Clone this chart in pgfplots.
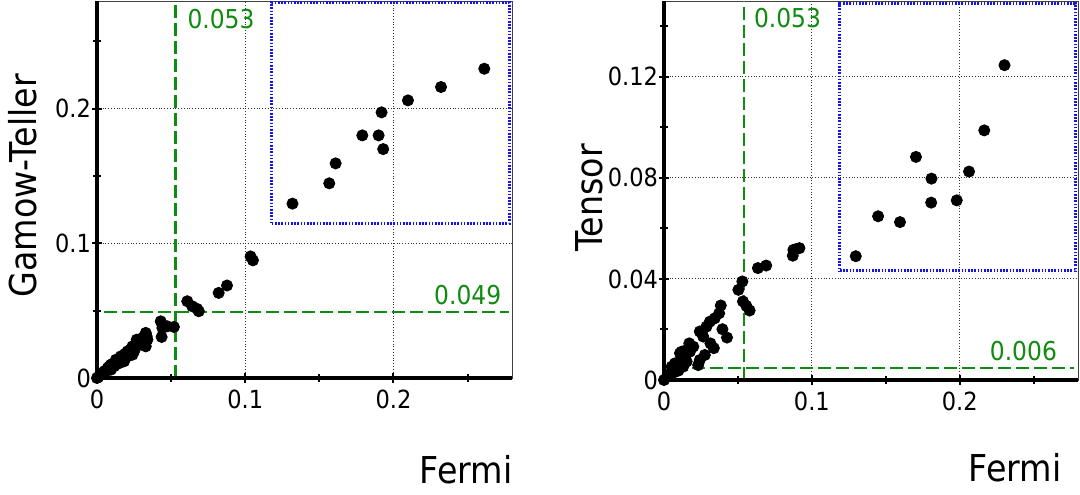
\documentclass[border=0pt]{standalone}
\usepackage{pgfplots}
\pgfplotsset{compat=1.18}
\usepackage{fontspec}
\setmainfont{DejaVu Sans}
\newfontfamily\tickfont{DejaVu Sans}[FakeStretch=0.9]
\definecolor{refgreen}{RGB}{15,140,15}
\definecolor{refblue}{RGB}{20,20,240}

\pgfplotsset{
  panel/.style={
    scale only axis, anchor=south west, clip=false,
    xmin=0, xmax=0.28,
    xtick={0,0.1,0.2}, minor xtick={0.05,0.15,0.25},
    scaled ticks=false,
    tick pos=left,
    tick align=center,
    major tick length=5pt, minor tick length=4pt,
    tick style={black, line width=1pt},
    xmajorgrids, ymajorgrids,
    major grid style={black!80, densely dotted, line width=0.45pt},
    axis line style={line width=0.5pt, black!75},
    tick label style={font=\tickfont\fontsize{12.5}{14}\selectfont},
    yticklabel style={xshift=3pt},
    /pgf/number format/assume math mode=true,
    /pgf/number format/fixed,
    label style={inner sep=0pt, font=\tickfont\fontsize{18.5}{22}\selectfont},
  },
  pts/.style={only marks, mark=*, mark size=2.8pt, black},
  gline/.style={refgreen, line width=1.2pt, dash pattern=on 6.5pt off 2.5pt},
  bbox/.style={refblue, line width=1.5pt, dash pattern=on 0.8pt off 0.8pt},
}
\tikzset{glab/.style={refgreen, inner sep=0pt, font=\tickfont\fontsize{13}{15}\selectfont}}

\begin{document}
\begin{tikzpicture}

% left panel: Gamow-Teller vs Fermi
\begin{axis}[panel,
    at={(48.5pt,58pt)}, width=207.5pt, height=188.5pt,
    ymin=0, ymax=0.28,
    ytick={0,0.1,0.2}, minor ytick={0.05,0.15,0.25},
    xlabel={Fermi}, ylabel={Gamow-Teller},
    xlabel style={at={(axis description cs:1.0024,-0.2785)}, anchor=base east},
    ylabel style={at={(axis description cs:-0.178,0.51)}, anchor=center},
  ]
  \addplot[gline] coordinates {(0.053,0) (0.053,0.28)};
  \addplot[gline] coordinates {(0.005,0.049) (0.278,0.049)};
  \addplot[bbox] coordinates {(0.118,0.1145) (0.278,0.1145) (0.278,0.279) (0.118,0.279) (0.118,0.1145)};
  \addplot[pts] coordinates {
    (0,0) (0.0009,0.0007) (0.0027,0.0025) (0.0038,0.0035) (0.0049,0.0050) (0.0049,0.0030)
    (0.0060,0.0055) (0.0072,0.0074) (0.0083,0.0085) (0.0094,0.0099) (0.0094,0.0062)
    (0.0105,0.0105) (0.0116,0.0087) (0.0128,0.0136) (0.0140,0.0130) (0.0150,0.0110)
    (0.0161,0.0161) (0.0161,0.0124) (0.0175,0.0160) (0.0183,0.0124) (0.0190,0.0180)
    (0.0206,0.0198) (0.0217,0.0166) (0.0225,0.0210) (0.0239,0.0235) (0.0239,0.0173)
    (0.0250,0.0198) (0.0255,0.0240) (0.0268,0.0285) (0.0280,0.0270) (0.0295,0.0248)
    (0.0310,0.0300) (0.0320,0.0260) (0.0329,0.0335) (0.0335,0.0310) (0.0340,0.0285)
    (0.0329,0.0235) (0.0430,0.0421) (0.0441,0.0372) (0.0436,0.0305) (0.0474,0.0384)
    (0.0519,0.0379) (0.0609,0.0570) (0.0642,0.0533) (0.0676,0.0513) (0.0687,0.0496)
    (0.0821,0.0632) (0.0877,0.0687) (0.1036,0.0903) (0.1052,0.0874) (0.1319,0.1295)
    (0.1567,0.1446) (0.1610,0.1594) (0.1790,0.1802) (0.1900,0.1802) (0.1931,0.1700)
    (0.1920,0.1973) (0.2098,0.2062) (0.2321,0.2161) (0.2613,0.2297)
  };
  \node[glab, anchor=base west] at (axis cs:0.0608,0.2595) {0.053};
  \node[glab, anchor=base east] at (axis cs:0.273,0.0545) {0.049};
  \draw[line width=2.25pt, black] (rel axis cs:0,1) -- (rel axis cs:0,0) -- (rel axis cs:1,0);
\end{axis}

% right panel: Tensor vs Fermi
\begin{axis}[panel,
    at={(332pt,57pt)}, width=207pt, height=189.5pt,
    ymin=0, ymax=0.15,
    ytick={0,0.04,0.08,0.12}, minor ytick={0.02,0.06,0.1,0.14},
    xlabel={Fermi}, ylabel={Tensor},
    xlabel style={at={(axis description cs:0.961,-0.269)}, anchor=base east},
    ylabel style={at={(axis description cs:-0.18,0.48)}, anchor=center},
  ]
  \addplot[gline] coordinates {(0.054,0) (0.054,0.15)};
  \addplot[gline] coordinates {(0.019,0.0048) (0.277,0.0048)};
  \addplot[bbox] coordinates {(0.119,0.0432) (0.278,0.0432) (0.278,0.149) (0.119,0.149) (0.119,0.0432)};
  \addplot[pts] coordinates {
    (0,0) (0.0018,0.0011) (0.0040,0.0024) (0.0052,0.0053) (0.0063,0.0040) (0.0063,0.0029)
    (0.0074,0.0066) (0.0085,0.0053) (0.0097,0.0066) (0.0097,0.0037) (0.0108,0.0106)
    (0.0119,0.0086) (0.0119,0.0112) (0.0130,0.0108) (0.0130,0.0053) (0.0153,0.0119)
    (0.0153,0.0073) (0.0171,0.0145) (0.0175,0.0112) (0.0198,0.0132) (0.0231,0.0059)
    (0.0242,0.0079) (0.0242,0.0192) (0.0265,0.0172) (0.0276,0.0099) (0.0287,0.0211)
    (0.0310,0.0231) (0.0314,0.0145) (0.0337,0.0126) (0.0343,0.0244) (0.0373,0.0264)
    (0.0384,0.0295) (0.0395,0.0201) (0.0426,0.0168) (0.0503,0.0357) (0.0530,0.0390)
    (0.0534,0.0311) (0.0557,0.0293) (0.0579,0.0275) (0.0635,0.0443) (0.0691,0.0453)
    (0.0871,0.0492) (0.0875,0.0515) (0.0893,0.0518) (0.0916,0.0522)
    (0.1297,0.0490) (0.1448,0.0648) (0.1596,0.0625) (0.1704,0.0883) (0.1809,0.0797)
    (0.1807,0.0702) (0.1980,0.0711) (0.2063,0.0825) (0.2166,0.0988) (0.2303,0.1246)
  };
  \node[glab, anchor=base west] at (axis cs:0.0606,0.1394) {0.053};
  \node[glab, anchor=base east] at (axis cs:0.266,0.0079) {0.006};
  \draw[line width=2.25pt, black] (rel axis cs:0,1) -- (rel axis cs:0,0) -- (rel axis cs:1,0);
\end{axis}

\pgfresetboundingbox
\useasboundingbox (0,0) rectangle (540pt,247pt);
\end{tikzpicture}
\end{document}
